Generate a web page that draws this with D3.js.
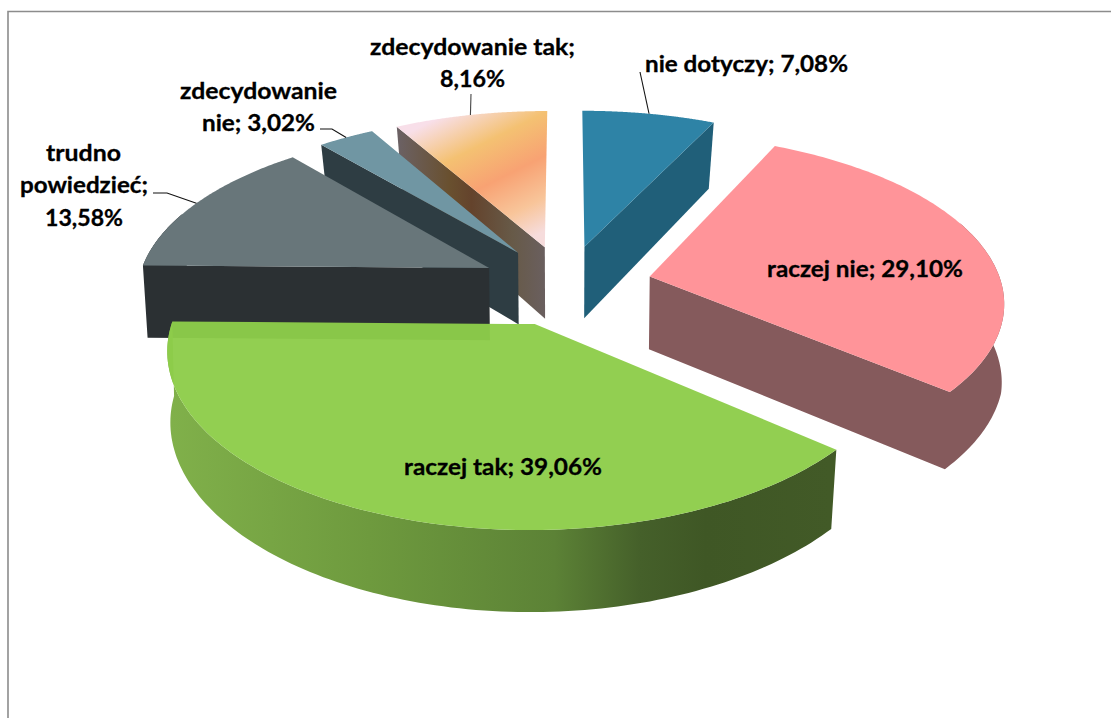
<!DOCTYPE html>
<html>
<head>
<meta charset="utf-8">
<script src="https://cdn.jsdelivr.net/npm/d3@7/dist/d3.min.js"></script>
<style>html,body{margin:0;padding:0;background:#fff}svg{display:block}</style>
</head>
<body>
<svg id="c" width="1111" height="718"></svg>
<script>
const categories = ["nie dotyczy","raczej nie","raczej tak","trudno powiedzieć","zdecydowanie nie","zdecydowanie tak"];
const values = [7.08,29.10,39.06,13.58,3.02,8.16];
const valueLabels = ["7,08%","29,10%","39,06%","13,58%","3,02%","8,16%"];
const topColors = ["#2e83a6","#ff9499","#8ecd4a","#68767a","#7096a3","url(#orangeTop)"];
const wallColors = ["#205f79","#855a5c","url(#greenWall)","#2b3033","#2e3d43","url(#orangeWall)"];
const drawOrder = [5,4,3,0,1,2];

// label layout: [text, left x, baseline y, width]
const labelLines = [
  [["nie dotyczy; 7,08%",645,72,203]],
  [["raczej nie; 29,10%",767,277,196]],
  [["raczej tak; 39,06%",404,475,198]],
  [["trudno",46,161,75],["powiedzieć;",20,193,128],["13,58%",45,226,78]],
  [["zdecydowanie",180,99,157],["nie; 3,02%",202,131,113]],
  [["zdecydowanie tak;",370,55,205],["8,16%",440,87,65]]
];
// leader line start points, by slice index
const leaderStarts = {0:[[640,72]],3:[[153,193],[167,193]],4:[[320,129],[332,129]],5:[[471,94]]};

const cx=566, cy=285, R=352, S=165, KX=0.135, KY=0.14, E=0.245, DEPTH=73, KD=0.09;

const svg=d3.select("#c");
const defs=svg.append("defs");
function grad(id,attrs,stops){
  const g=defs.append("linearGradient").attr("id",id).attr("gradientUnits","userSpaceOnUse");
  Object.entries(attrs).forEach(([k,v])=>g.attr(k,v));
  stops.forEach(([o,c])=>g.append("stop").attr("offset",o).attr("stop-color",c));
}
grad("greenWall",{x1:172,y1:0,x2:831,y2:0},[[0,"#80b04a"],[.3,"#6e9a3e"],[.58,"#5c8236"],[.71,"#45602a"],[.81,"#3f5725"],[1,"#425a27"]]);
grad("orangeTop",{x1:420,y1:127,x2:487,y2:260},[[0,"#f8dfe9"],[.29,"#f4c172"],[.55,"#f8a273"],[.8,"#f8c59a"],[1,"#f6dcdc"]]);
grad("orangeWall",{x1:398,y1:0,x2:545,y2:0},[[0,"#6b6164"],[.35,"#69502f"],[.5,"#64432c"],[.78,"#675a48"],[1,"#6a5f5f"]]);

// frame
svg.append("path").attr("d","M8 718V11.5H1111").attr("fill","none").attr("stroke","#8c8c8c").attr("stroke-width",1.6);

// pie angles come from d3.pie
const arcs=d3.pie().sort(null).value(d=>d)(values);

function project(u,v){
  return [cx+R*u/(1-KX*v), cy+S*v/(1-KY*v)];
}
function lower(p,v){
  const s=0.996-0.022*Math.abs(v-0.2);
  return [cx+(p[0]-cx)*s, p[1]+DEPTH/(1-KD*v)];
}
function slicePoint(a,ang,r){
  const m=(a.startAngle+a.endAngle)/2;
  const u=E*Math.sin(m)+r*Math.sin(ang), v=-E*Math.cos(m)-r*Math.cos(ang);
  return {p:project(u,v),v,ang};
}
const line=d3.line();
function rim(a){
  return d3.range(0,121).map(i=>slicePoint(a,a.startAngle+(a.endAngle-a.startAngle)*i/120,1));
}
// same winding for every polygon, so that overlaps inside one path never cancel
function poly(pts){
  const list=d3.polygonArea(pts)<0?pts.slice().reverse():pts;
  return line(list)+"Z";
}

drawOrder.forEach(i=>{
  const a=arcs[i], g=svg.append("g");
  const r=rim(a), apex=slicePoint(a,a.startAngle,0);
  const up=o=>o.p, low=o=>lower(o.p,o.v);
  // only the walls that face the viewer are drawn, all in a single path
  let d="";
  if(Math.sin(a.startAngle)<-1e-6) d+=poly([up(apex),up(r[0]),low(r[0]),low(apex)]);
  if(Math.sin(a.endAngle)>1e-6)   d+=poly([low(apex),low(r[120]),up(r[120]),up(apex)]);
  const front=r.filter(o=>Math.cos(o.ang)<=0.35);
  if(front.length>1) d+=poly(front.map(up).concat(front.slice().reverse().map(low)));
  if(d) g.append("path").attr("d",d).attr("fill",wallColors[i]).attr("fill-rule","nonzero");
  g.append("path").attr("d",line([up(apex)].concat(r.map(up)))+"Z")
    .attr("fill",topColors[i]).attr("fill-opacity",i===2?0.96:1);
});

// leader lines end on the rim, at the middle of each slice
Object.entries(leaderStarts).forEach(([k,pts])=>{
  const a=arcs[+k];
  const end=slicePoint(a,(a.startAngle+a.endAngle)/2,1).p;
  svg.append("path").attr("d",line(pts.concat([end]))).attr("fill","none")
    .attr("stroke",+k===5?"#444":"#111").attr("stroke-width",1.1);
});

// labels
labelLines.forEach(lines=>lines.forEach(([t,x,y,w])=>{
  svg.append("text").text(t).attr("x",x).attr("y",y)
    .attr("font-family","Lato, 'Open Sans', sans-serif").attr("font-weight",700)
    .attr("font-size",23).attr("fill","#000").attr("stroke","#000").attr("stroke-width",0.3)
    .attr("textLength",w).attr("lengthAdjust","spacingAndGlyphs");
}));
</script>
</body>
</html>
